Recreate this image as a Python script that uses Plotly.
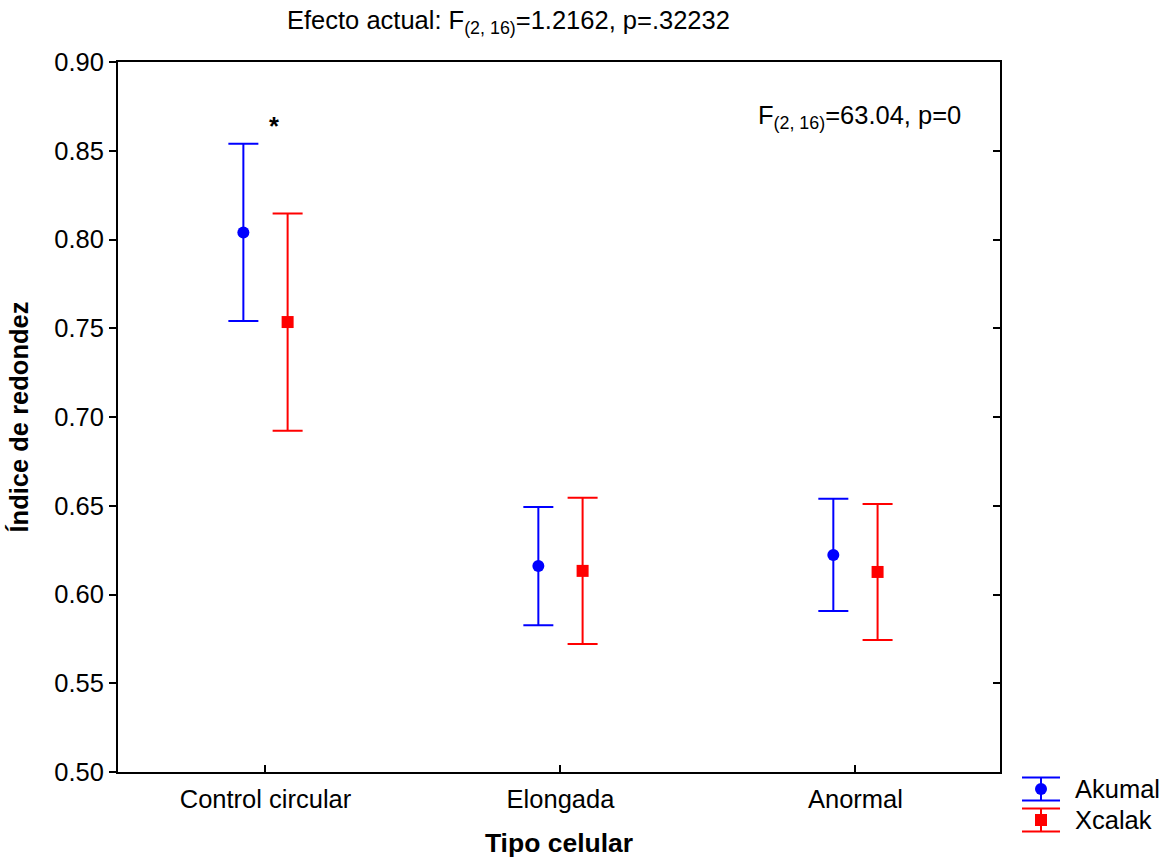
import numpy as np
import plotly.graph_objects as go

# Cell types on the x axis
categories = ["Control circular", "Elongada", "Anormal"]

# Mean roundness index and 95% confidence half-width per locality
akumal_mean = [0.804, 0.616, 0.6223]
akumal_ci = [0.0499, 0.0333, 0.0316]
xcalak_mean = [0.7535, 0.6133, 0.6127]
xcalak_ci = [0.0612, 0.0412, 0.0383]

y_ticks = [0.50, 0.55, 0.60, 0.65, 0.70, 0.75, 0.80, 0.85, 0.90]

BLUE = "#0000FF"
RED = "#FF0000"
FONT = "Liberation Sans, Arial, sans-serif"
FS = 25.5

idx = np.arange(len(categories))
dodge = 0.075

fig = go.Figure()

fig.add_trace(go.Scatter(
    x=idx - dodge, y=akumal_mean, mode="markers", name="Akumal",
    marker=dict(symbol="circle", size=12, color=BLUE),
    error_y=dict(type="data", array=akumal_ci, visible=True,
                 color=BLUE, thickness=2, width=15),
    showlegend=False,
))
fig.add_trace(go.Scatter(
    x=idx + dodge, y=xcalak_mean, mode="markers", name="Xcalak",
    marker=dict(symbol="square", size=12, color=RED),
    error_y=dict(type="data", array=xcalak_ci, visible=True,
                 color=RED, thickness=2, width=15),
    showlegend=False,
))
# invisible trace so the right-hand tick axis is drawn
fig.add_trace(go.Scatter(x=[idx[0]], y=[y_ticks[0]], yaxis="y2", mode="markers",
                         marker=dict(opacity=0), hoverinfo="skip", showlegend=False))

fig.update_layout(
    width=1164, height=861,
    margin=dict(l=118, r=164, t=62, b=89),
    paper_bgcolor="white", plot_bgcolor="white",
    font=dict(family=FONT, size=FS, color="black"),
    xaxis=dict(
        range=[-0.5, 2.49], tickvals=list(idx), ticktext=categories,
        ticks="inside", ticklen=7, tickwidth=1.5, tickcolor="black",
        ticklabelstandoff=3, automargin=False,
        showline=True, linecolor="black", linewidth=2, mirror=True,
        showgrid=False, zeroline=False,
        tickfont=dict(family=FONT, size=FS, color="black"),
        title=dict(text="<b>Tipo celular</b>", standoff=22,
                   font=dict(family=FONT, size=26.5, color="black")),
    ),
    yaxis=dict(
        range=[0.5, 0.9], tickvals=y_ticks,
        ticktext=[f"{v:.2f}" for v in y_ticks],
        ticks="outside", ticklen=7, tickwidth=1.5, tickcolor="black",
        automargin=False,
        showline=True, linecolor="black", linewidth=2, mirror=True,
        showgrid=False, zeroline=False,
        tickfont=dict(family=FONT, size=FS, color="black"),
        title=dict(text="<b>Índice de redondez</b>", standoff=18,
                   font=dict(family=FONT, size=FS, color="black")),
    ),
    yaxis2=dict(
        range=[0.5, 0.9], tickvals=y_ticks, overlaying="y", side="right",
        ticks="inside", ticklen=7, tickwidth=1.5, tickcolor="black",
        automargin=False,
        showticklabels=False, showgrid=False, zeroline=False, showline=False,
    ),
)

annotations = [
    dict(text="Efecto actual: F<sub>(2, 16)</sub>=1.2162, p=.32232",
         xref="paper", yref="paper", x=0.443, y=1.0, yshift=40,
         showarrow=False, xanchor="center", yanchor="middle",
         font=dict(family=FONT, size=FS, color="black")),
    dict(text="F<sub>(2, 16)</sub>=63.04, p=0",
         xref="paper", yref="paper", x=0.841, y=0.922,
         showarrow=False, xanchor="center", yanchor="middle",
         font=dict(family=FONT, size=FS, color="black")),
    dict(text="<b>*</b>", xref="x", yref="y", x=0.03, y=0.864,
         showarrow=False, xanchor="center", yanchor="middle",
         font=dict(family=FONT, size=FS, color="black")),
]

# Legend drawn beside the lower-right corner: error-bar glyph plus label
legend_items = [("Akumal", BLUE, "circle", -0.0239), ("Xcalak", RED, "square", -0.0676)]
shapes = []
gx = 1.0465
for label, col, sym, gy in legend_items:
    for dy in (-11.5, 11.5):
        shapes.append(dict(type="line", xref="paper", yref="paper",
                           xsizemode="pixel", ysizemode="pixel",
                           xanchor=gx, yanchor=gy,
                           x0=-19, x1=19, y0=dy, y1=dy,
                           line=dict(color=col, width=2)))
    shapes.append(dict(type="line", xref="paper", yref="paper",
                       xsizemode="pixel", ysizemode="pixel",
                       xanchor=gx, yanchor=gy, x0=0, x1=0, y0=-11.5, y1=11.5,
                       line=dict(color=col, width=2)))
    shapes.append(dict(type="circle" if sym == "circle" else "rect",
                       xref="paper", yref="paper",
                       xsizemode="pixel", ysizemode="pixel",
                       xanchor=gx, yanchor=gy, x0=-6, x1=6, y0=-6, y1=6,
                       fillcolor=col, line=dict(color=col, width=0)))
    annotations.append(dict(text=label, xref="paper", yref="paper",
                            x=1.083, y=gy, showarrow=False,
                            xanchor="left", yanchor="middle",
                            font=dict(family=FONT, size=FS, color="black")))

fig.update_layout(annotations=annotations, shapes=shapes)

fig.write_html("out.html")
